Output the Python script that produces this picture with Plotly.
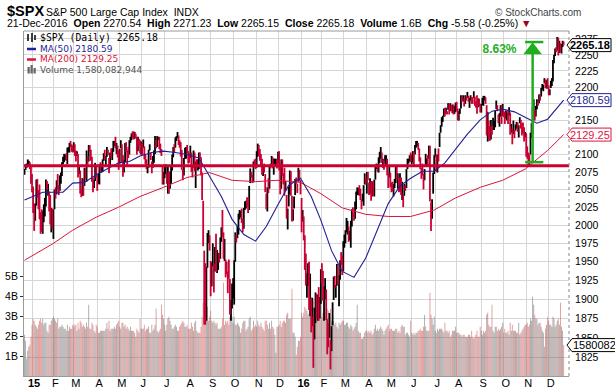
import math
import plotly.graph_objects as go

# ---------------------------------------------------------------- data
# trading-day counts per month (first entry = last 7 sessions of Dec 2014)
month_days = [7, 20, 19, 22, 21, 20, 22, 22, 21, 21, 22, 20, 22,
              19, 20, 22, 21, 21, 22, 20, 23, 21, 21, 21, 15]
month_labels = ["<b>15</b>", "F", "M", "A", "M", "J", "J", "A", "S", "O", "N", "D",
                "<b>16</b>", "F", "M", "A", "M", "J", "J", "A", "S", "O", "N", "D"]

close = [
    2079, 2082, 2082, 2089, 2091, 2080, 2059,
    2058, 2021, 2003, 2026, 2062, 2045, 2028, 2023, 2011, 1993, 2019, 2023, 2032, 2063, 2052, 2057, 2030, 2002, 2021, 1995,
    2021, 2050, 2042, 2063, 2055, 2047, 2069, 2069, 2088, 2097, 2100, 2100, 2097, 2110, 2110, 2115, 2114, 2111, 2105,
    2117, 2108, 2099, 2101, 2071, 2079, 2044, 2040, 2066, 2053, 2081, 2074, 2100, 2089, 2108, 2104, 2092, 2061, 2056, 2061, 2086, 2068,
    2060, 2067, 2081, 2076, 2082, 2091, 2102, 2092, 2096, 2107, 2105, 2081, 2100, 2097, 2108, 2113, 2118, 2109, 2115, 2107, 2086,
    2108, 2114, 2089, 2080, 2088, 2116, 2105, 2099, 2098, 2121, 2123, 2129, 2128, 2126, 2131, 2126, 2104, 2123, 2121, 2107,
    2112, 2110, 2114, 2096, 2093, 2079, 2080, 2105, 2109, 2094, 2084, 2096, 2100, 2121, 2110, 2123, 2124, 2109, 2102, 2101, 2058, 2063,
    2077, 2077, 2069, 2081, 2047, 2051, 2077, 2100, 2109, 2107, 2124, 2127, 2128, 2119, 2114, 2102, 2080, 2068, 2093, 2109, 2109, 2104,
    2098, 2093, 2100, 2084, 2078, 2104, 2084, 2086, 2083, 2092, 2102, 2097, 2080, 2036, 1971, 1893, 1868, 1941, 1988, 1989, 1972,
    1914, 1949, 1951, 1921, 1969, 1942, 1952, 1961, 1953, 1978, 1995, 1990, 1958, 1967, 1943, 1939, 1932, 1931, 1882, 1884, 1920,
    1924, 1951, 1987, 1980, 1996, 2013, 2015, 2017, 2004, 1994, 2024, 2033, 2034, 2031, 2019, 2053, 2075, 2071, 2066, 2090, 2089, 2079,
    2104, 2110, 2102, 2100, 2099, 2079, 2082, 2075, 2046, 2023, 2053, 2050, 2084, 2081, 2089, 2087, 2089, 2089, 2090, 2080,
    2103, 2080, 2050, 2092, 2077, 2064, 2048, 2052, 2012, 2022, 2043, 2073, 2042, 2006, 2021, 2039, 2064, 2061, 2057, 2078, 2063, 2044,
    2013, 2017, 1990, 1943, 1922, 1924, 1939, 1890, 1922, 1880, 1881, 1859, 1869, 1907, 1877, 1904, 1883, 1893, 1940,
    1939, 1903, 1913, 1915, 1880, 1853, 1852, 1852, 1829, 1865, 1896, 1927, 1918, 1918, 1946, 1921, 1930, 1952, 1948, 1932,
    1978, 1986, 1993, 2000, 2002, 1979, 1989, 1990, 2022, 2020, 2016, 2027, 2041, 2050, 2052, 2050, 2037, 2036, 2037, 2055, 2064, 2060,
    2073, 2067, 2046, 2066, 2041, 2048, 2042, 2061, 2082, 2083, 2081, 2095, 2101, 2102, 2091, 2092, 2088, 2092, 2095, 2075, 2065,
    2081, 2063, 2052, 2051, 2058, 2059, 2085, 2064, 2065, 2047, 2066, 2047, 2048, 2040, 2052, 2048, 2077, 2090, 2091, 2099, 2097,
    2099, 2105, 2100, 2110, 2112, 2119, 2115, 2096, 2079, 2075, 2072, 2071, 2071, 2084, 2089, 2085, 2113, 2037, 2001, 2036, 2071, 2099,
    2103, 2089, 2100, 2098, 2129, 2137, 2152, 2152, 2163, 2162, 2166, 2164, 2173, 2166, 2175, 2169, 2169, 2167, 2170, 2174,
    2171, 2157, 2164, 2164, 2183, 2181, 2182, 2175, 2186, 2184, 2190, 2179, 2182, 2187, 2184, 2182, 2186, 2176, 2173, 2169, 2180, 2176, 2171,
    2171, 2180, 2186, 2186, 2181, 2128, 2159, 2127, 2126, 2147, 2139, 2139, 2140, 2164, 2177, 2165, 2146, 2160, 2171, 2151, 2168,
    2161, 2151, 2160, 2160, 2154, 2164, 2136, 2139, 2133, 2133, 2127, 2140, 2144, 2141, 2141, 2151, 2143, 2139, 2133, 2126, 2126,
    2111, 2098, 2089, 2085, 2132, 2140, 2163, 2167, 2164, 2164, 2180, 2177, 2187, 2182, 2198, 2203, 2204, 2213, 2202, 2204, 2199,
    2191, 2192, 2205, 2213, 2241, 2246, 2260, 2256, 2272, 2253, 2262, 2258, 2263, 2271, 2265,
]
high = [
    2079, 2086, 2087, 2093, 2091, 2089, 2085,
    2072, 2054, 2030, 2030, 2064, 2065, 2049, 2057, 2018, 2022, 2020, 2029, 2038, 2064, 2062, 2058, 2047, 2042, 2024, 2023,
    2022, 2050, 2053, 2063, 2072, 2056, 2070, 2074, 2089, 2097, 2101, 2100, 2102, 2110, 2111, 2117, 2120, 2115, 2113,
    2118, 2115, 2106, 2105, 2101, 2085, 2077, 2050, 2066, 2065, 2081, 2080, 2106, 2098, 2114, 2114, 2107, 2097, 2067, 2063, 2088, 2084,
    2068, 2072, 2086, 2089, 2086, 2093, 2102, 2107, 2098, 2111, 2107, 2095, 2103, 2109, 2109, 2120, 2120, 2126, 2117, 2113, 2106,
    2108, 2121, 2115, 2099, 2092, 2117, 2118, 2106, 2111, 2121, 2126, 2131, 2134, 2134, 2133, 2130, 2126, 2126, 2123, 2121,
    2119, 2117, 2122, 2112, 2100, 2093, 2086, 2107, 2115, 2103, 2090, 2098, 2106, 2127, 2121, 2127, 2126, 2126, 2116, 2108, 2084, 2075,
    2083, 2086, 2075, 2083, 2076, 2075, 2082, 2100, 2111, 2115, 2125, 2127, 2133, 2128, 2121, 2118, 2107, 2079, 2095, 2110, 2111, 2114,
    2105, 2102, 2113, 2103, 2082, 2106, 2103, 2090, 2093, 2093, 2103, 2103, 2096, 2074, 2034, 1965, 1948, 1943, 1989, 1993, 1986,
    1951, 1949, 1975, 1947, 1970, 1988, 1966, 1962, 1962, 1983, 1997, 2021, 1990, 1981, 1953, 1950, 1937, 1953, 1927, 1899, 1921,
    1928, 1952, 1990, 1987, 1999, 2016, 2021, 2020, 2023, 2009, 2024, 2033, 2034, 2039, 2038, 2055, 2080, 2075, 2071, 2090, 2093, 2094,
    2105, 2116, 2114, 2108, 2101, 2094, 2083, 2087, 2072, 2044, 2053, 2066, 2084, 2087, 2098, 2096, 2094, 2094, 2094, 2093,
    2104, 2105, 2086, 2093, 2093, 2073, 2081, 2062, 2042, 2023, 2054, 2077, 2076, 2041, 2022, 2040, 2065, 2067, 2058, 2081, 2078, 2063,
    2038, 2021, 2012, 1986, 1961, 1935, 1948, 1950, 1934, 1901, 1902, 1877, 1889, 1909, 1907, 1906, 1916, 1903, 1940,
    1948, 1938, 1917, 1928, 1913, 1874, 1869, 1882, 1847, 1865, 1896, 1930, 1931, 1919, 1947, 1945, 1932, 1952, 1963, 1958,
    1978, 1987, 1993, 2010, 2006, 1998, 1992, 2006, 2022, 2025, 2017, 2033, 2047, 2053, 2052, 2056, 2051, 2036, 2044, 2056, 2073, 2067,
    2075, 2075, 2060, 2066, 2062, 2061, 2062, 2064, 2083, 2087, 2083, 2096, 2104, 2111, 2103, 2094, 2091, 2099, 2099, 2094, 2073,
    2084, 2074, 2060, 2061, 2058, 2065, 2085, 2084, 2073, 2067, 2073, 2067, 2061, 2044, 2058, 2056, 2079, 2094, 2094, 2099, 2103,
    2100, 2105, 2104, 2114, 2120, 2120, 2117, 2109, 2096, 2081, 2087, 2072, 2079, 2101, 2094, 2099, 2113, 2113, 2032, 2036, 2074, 2099,
    2109, 2100, 2100, 2109, 2132, 2143, 2155, 2157, 2168, 2169, 2169, 2164, 2176, 2175, 2176, 2173, 2174, 2174, 2172, 2177,
    2178, 2168, 2164, 2168, 2188, 2186, 2188, 2183, 2188, 2186, 2193, 2187, 2184, 2188, 2185, 2185, 2194, 2186, 2179, 2188, 2183, 2183, 2175,
    2175, 2184, 2187, 2187, 2185, 2173, 2163, 2150, 2142, 2151, 2142, 2154, 2150, 2165, 2180, 2173, 2159, 2161, 2173, 2173, 2175,
    2164, 2163, 2165, 2162, 2165, 2170, 2162, 2145, 2138, 2150, 2136, 2144, 2148, 2147, 2143, 2155, 2151, 2146, 2147, 2140, 2133,
    2131, 2112, 2103, 2100, 2132, 2146, 2170, 2182, 2166, 2172, 2182, 2179, 2189, 2190, 2199, 2205, 2204, 2214, 2212, 2211, 2214,
    2203, 2197, 2210, 2214, 2242, 2250, 2260, 2262, 2278, 2277, 2272, 2268, 2267, 2272, 2271,
]
low = [
    2071, 2078, 2081, 2082, 2085, 2079, 2058,
    2046, 2017, 1992, 2006, 2027, 2038, 2022, 2008, 1988, 1991, 1988, 2004, 2012, 2026, 2050, 2041, 2019, 2001, 1990, 1994,
    1981, 2022, 2037, 2043, 2050, 2042, 2048, 2058, 2069, 2086, 2089, 2092, 2091, 2086, 2103, 2103, 2111, 2104, 2103,
    2104, 2098, 2090, 2098, 2067, 2072, 2044, 2039, 2041, 2041, 2055, 2065, 2061, 2086, 2090, 2104, 2091, 2061, 2046, 2052, 2062, 2067,
    2048, 2058, 2057, 2076, 2074, 2075, 2091, 2092, 2084, 2097, 2099, 2073, 2082, 2095, 2092, 2104, 2112, 2109, 2101, 2096, 2078,
    2087, 2109, 2088, 2068, 2074, 2089, 2104, 2085, 2095, 2100, 2117, 2121, 2124, 2122, 2123, 2125, 2100, 2105, 2113, 2102,
    2100, 2099, 2110, 2093, 2086, 2079, 2073, 2081, 2106, 2092, 2073, 2081, 2088, 2101, 2109, 2111, 2121, 2108, 2102, 2098, 2057, 2057,
    2066, 2072, 2058, 2044, 2044, 2051, 2058, 2077, 2096, 2103, 2110, 2120, 2124, 2114, 2110, 2097, 2078, 2063, 2070, 2094, 2094, 2102,
    2087, 2088, 2095, 2075, 2067, 2081, 2076, 2052, 2080, 2077, 2079, 2094, 2070, 2035, 1971, 1867, 1867, 1872, 1942, 1975, 1965,
    1904, 1917, 1944, 1909, 1937, 1937, 1935, 1939, 1949, 1954, 1977, 1984, 1954, 1951, 1929, 1933, 1908, 1927, 1880, 1872, 1888,
    1901, 1893, 1950, 1976, 1982, 1987, 2008, 2011, 2003, 1990, 1995, 2021, 2023, 2026, 2017, 2021, 2059, 2067, 2059, 2060, 2082, 2079,
    2081, 2097, 2098, 2091, 2084, 2071, 2069, 2074, 2046, 2022, 2019, 2045, 2051, 2080, 2083, 2080, 2071, 2087, 2084, 2080,
    2087, 2077, 2043, 2051, 2069, 2057, 2041, 2048, 2009, 1994, 2026, 2043, 2041, 2005, 2006, 2023, 2042, 2058, 2045, 2061, 2062, 2043,
    1990, 2005, 1979, 1939, 1918, 1902, 1918, 1886, 1878, 1857, 1865, 1812, 1848, 1869, 1875, 1872, 1872, 1875, 1894,
    1921, 1898, 1872, 1900, 1873, 1829, 1838, 1850, 1810, 1833, 1866, 1899, 1915, 1902, 1918, 1920, 1891, 1926, 1946, 1932,
    1937, 1969, 1975, 1990, 1987, 1977, 1979, 1969, 1998, 2012, 2006, 2009, 2022, 2042, 2042, 2041, 2035, 2022, 2033, 2027, 2057, 2057,
    2044, 2063, 2042, 2043, 2034, 2040, 2041, 2040, 2064, 2079, 2075, 2074, 2088, 2094, 2088, 2081, 2078, 2087, 2084, 2070, 2052,
    2067, 2053, 2046, 2047, 2040, 2052, 2059, 2064, 2051, 2046, 2047, 2042, 2035, 2025, 2041, 2048, 2052, 2079, 2087, 2090, 2089,
    2086, 2089, 2085, 2100, 2110, 2112, 2107, 2090, 2079, 2065, 2070, 2050, 2063, 2084, 2083, 2084, 2094, 2033, 1992, 2009, 2044, 2072,
    2097, 2075, 2074, 2090, 2111, 2132, 2141, 2148, 2156, 2156, 2160, 2159, 2166, 2159, 2164, 2164, 2161, 2159, 2160, 2163,
    2165, 2150, 2150, 2160, 2168, 2178, 2179, 2171, 2175, 2180, 2184, 2178, 2169, 2180, 2175, 2175, 2184, 2172, 2169, 2160, 2170, 2171, 2162,
    2162, 2173, 2172, 2180, 2175, 2128, 2119, 2121, 2120, 2122, 2129, 2136, 2136, 2140, 2167, 2164, 2146, 2141, 2156, 2145, 2157,
    2155, 2145, 2153, 2150, 2145, 2157, 2129, 2132, 2115, 2130, 2124, 2135, 2138, 2133, 2125, 2146, 2138, 2128, 2131, 2119, 2125,
    2097, 2094, 2085, 2084, 2100, 2124, 2129, 2151, 2150, 2156, 2167, 2172, 2176, 2180, 2186, 2196, 2194, 2206, 2199, 2198, 2198,
    2188, 2188, 2199, 2202, 2209, 2237, 2248, 2254, 2257, 2249, 2253, 2254, 2252, 2262, 2265,
]
volume_b = [
    2.1, 1.8, 0.9, 1.3, 1.5, 1.6, 2.0,
    2.6, 2.9, 2.8, 2.6, 2.5, 2.4, 2.6, 2.8, 2.9, 2.7, 2.9, 2.6, 2.7, 2.7, 2.3, 2.2, 2.6, 2.6, 2.8, 2.9,
    3.0, 2.9, 2.8, 2.7, 2.9, 2.4, 2.5, 2.5, 2.6, 2.5, 2.4, 2.4, 2.3, 2.6, 2.3, 2.5, 2.4, 2.4, 2.6,
    2.5, 2.6, 2.6, 2.3, 2.7, 2.4, 2.8, 2.7, 2.5, 2.6, 2.5, 2.4, 2.7, 2.5, 3.6, 2.4, 2.4, 2.7, 2.6, 2.3, 2.2, 2.6,
    2.5, 2.2, 2.2, 2.3, 2.3, 2.3, 2.3, 2.3, 2.4, 2.7, 2.4, 2.8, 2.3, 2.4, 2.4, 2.4, 2.5, 2.4, 2.6, 2.7, 2.8,
    2.5, 2.4, 2.7, 2.7, 2.5, 2.6, 2.4, 2.5, 2.4, 2.3, 2.5, 2.3, 2.3, 2.3, 2.2, 2.0, 2.4, 2.3, 2.2, 2.9,
    2.4, 2.4, 2.4, 2.6, 2.3, 2.4, 2.4, 2.5, 2.2, 2.2, 2.6, 2.3, 2.4, 2.6, 3.4, 2.3, 2.2, 2.3, 2.4, 3.6, 3.1, 2.9,
    2.6, 2.3, 2.6, 2.9, 3.0, 2.8, 2.6, 2.4, 2.4, 2.5, 2.6, 2.5, 2.3, 2.3, 2.5, 2.6, 2.7, 2.8, 2.7, 2.5, 2.5, 2.6,
    2.4, 2.4, 2.4, 2.7, 2.5, 2.3, 2.7, 2.8, 2.3, 2.2, 2.2, 2.2, 2.5, 3.0, 3.7, 4.8, 4.0, 4.0, 3.5, 2.8, 3.0,
    3.3, 2.8, 2.7, 2.8, 2.7, 2.6, 2.7, 2.4, 2.4, 2.4, 2.5, 2.9, 4.7, 2.6, 2.8, 2.7, 2.8, 2.6, 3.0, 3.1, 3.0,
    2.7, 3.0, 2.6, 2.6, 2.7, 2.6, 2.5, 2.2, 2.4, 2.7, 2.8, 2.8, 2.3, 2.4, 2.5, 2.9, 3.0, 2.3, 2.4, 2.8, 2.5, 2.6,
    2.5, 2.8, 2.6, 2.5, 2.7, 2.5, 2.4, 2.3, 2.8, 2.8, 2.6, 2.4, 2.7, 2.4, 2.8, 2.5, 2.4, 2.1, 1.2, 2.5,
    2.5, 2.6, 2.8, 2.5, 2.7, 2.8, 2.8, 2.7, 3.1, 3.2, 2.9, 2.9, 2.9, 4.4, 2.2, 2.2, 2.0, 1.1, 1.5, 1.8, 1.8, 2.0,
    3.2, 3.0, 3.2, 3.5, 3.4, 3.3, 3.1, 3.2, 3.4, 4.0, 3.5, 3.8, 3.2, 3.3, 2.8, 2.9, 3.0, 3.1, 3.8,
    3.0, 3.2, 3.2, 3.0, 3.2, 3.4, 3.3, 3.2, 3.4, 2.8, 2.8, 2.8, 2.6, 2.7, 2.5, 2.4, 2.7, 2.6, 2.7, 2.8,
    2.8, 2.6, 2.6, 2.7, 2.7, 2.5, 2.4, 2.6, 2.5, 2.3, 2.4, 2.5, 2.7, 3.6, 2.3, 2.2, 2.2, 1.9, 1.9, 2.0, 2.2, 2.3,
    2.3, 2.2, 2.3, 2.2, 2.3, 2.1, 2.2, 2.4, 2.6, 2.3, 2.4, 2.3, 2.4, 2.5, 2.4, 2.3, 2.1, 2.3, 2.4, 2.5, 2.6,
    2.3, 2.4, 2.4, 2.3, 2.3, 2.3, 2.4, 2.4, 2.2, 2.3, 2.2, 2.5, 2.6, 2.5, 2.5, 2.1, 2.2, 2.2, 2.1, 2.0, 2.8,
    2.2, 2.1, 2.2, 2.1, 2.2, 2.2, 2.3, 2.3, 2.4, 2.3, 2.3, 2.5, 3.1, 2.5, 2.3, 2.3, 2.3, 4.2, 3.1, 2.9, 2.6, 3.0,
    2.3, 2.2, 2.4, 2.3, 2.4, 2.4, 2.4, 2.3, 2.2, 2.7, 2.3, 2.3, 2.2, 2.3, 2.0, 2.1, 2.3, 2.3, 2.3, 2.5,
    2.2, 2.2, 2.2, 2.1, 2.1, 2.0, 2.1, 2.1, 2.0, 2.0, 2.0, 2.1, 2.1, 2.0, 2.3, 2.0, 1.9, 2.0, 2.1, 2.3, 2.0, 2.0, 2.5,
    2.3, 2.1, 2.3, 2.2, 2.3, 3.1, 3.2, 2.6, 2.5, 2.5, 3.6, 2.3, 2.2, 2.5, 2.5, 2.3, 2.4, 2.3, 2.4, 2.5, 2.7,
    2.2, 2.4, 2.2, 2.2, 2.3, 2.1, 2.7, 2.3, 2.6, 2.3, 2.3, 2.3, 2.2, 2.2, 2.7, 2.1, 2.2, 2.3, 2.4, 2.5, 2.6,
    2.6, 2.7, 2.5, 2.6, 2.9, 2.8, 4.0, 3.6, 3.1, 2.9, 2.9, 2.6, 2.7, 2.7, 2.5, 2.3, 2.2, 1.5, 2.4, 2.6, 3.0,
    2.8, 2.6, 2.6, 2.5, 3.0, 2.9, 2.5, 2.6, 2.8, 2.9, 2.6, 3.7, 2.5, 2.3, 1.58,
]
prev_close = 2071  # close of the session before the first bar

# moving averages (bar index, value)
ma50_idx = [0, 6, 17, 26, 36, 45, 56, 67, 78, 88, 98, 108, 119, 130, 141, 152, 163, 173, 184, 194,
            205, 216, 226, 236, 247, 258, 268, 277, 287, 297, 308, 319, 330, 340, 351, 361, 372, 383,
            393, 403, 414, 426, 437, 447, 458, 468, 479, 489, 495, 504]
ma50 = [2035, 2039, 2046, 2046, 2046, 2059, 2060, 2071, 2080, 2088, 2090, 2098, 2103, 2105, 2103, 2100,
        2095, 2068, 2040, 2008, 1987, 1978, 1998, 2026, 2056, 2066, 2040, 2007, 1965, 1937, 1929, 1955,
        1995, 2030, 2055, 2066, 2076, 2076, 2088, 2108, 2130, 2151, 2164, 2167, 2163, 2155, 2146, 2152,
        2163, 2180.59]
ma200_idx = [0, 6, 26, 45, 67, 88, 108, 130, 152, 173, 194, 216, 236, 258, 277, 297, 319, 340, 361,
             383, 403, 426, 447, 468, 489, 504]
ma200 = [1952, 1957, 1974, 1993, 2011, 2025, 2040, 2053, 2067, 2074, 2063, 2061, 2063, 2060, 2044,
         2024, 2015, 2012, 2012, 2021, 2038, 2053, 2063, 2079, 2106, 2129.25]

price_ticks = [1825, 1850, 1875, 1900, 1925, 1950, 1975, 2000, 2025, 2050, 2075, 2100, 2125,
               2150, 2175, 2200, 2225, 2250, 2275]
covered_ticks = [2125, 2175]  # labels hidden behind the MA value tags
volume_ticks = [1, 2, 3, 4, 5]
volume_tick_labels = ["1B", "2B", "3B", "4B", "5B"]

support_level = 2084
arrow_idx = 475
arrow_from = 2089
arrow_to = 2270
arrow_head = 2257
gain_label = "8.63%"
gain_label_idx = 444

last_close = 2265.18
last_ma50 = 2180.59
last_ma200 = 2129.25
last_volume = 1580082944
last_volume_text = "1,580,082,944"

header_date = "21-Dec-2016"
header_open, header_high, header_low, header_close = "2270.54", "2271.23", "2265.15", "2265.18"
header_volume, header_chg = "1.6B", "-5.58 (-0.25%)"

# ---------------------------------------------------------------- checks
n = len(close)
for name, arr in (("high", high), ("low", low), ("volume_b", volume_b)):
    if len(arr) != n:
        raise ValueError(f"{name} has {len(arr)} values but close has {n}")
if sum(month_days) != n:
    raise ValueError(f"month_days sums to {sum(month_days)}, close has {n}")

# ---------------------------------------------------------------- geometry
W, H = 615, 390
L, R, T, B = 24, 46, 31, 14
PW, PH = W - L - R, H - T - B
X_RANGE = [-0.5, 509]
P_LO, P_HI = 1801.8, 2287.4
Y2_RANGE = [math.log10(P_LO), math.log10(P_HI)]
V_RANGE = [0.035, 17.285]

FONT = "Liberation Sans, Arial, sans-serif"
UP_C, DOWN_C = "#000000", "#cc0033"
VOL_UP, VOL_DOWN = "rgba(100,100,100,0.56)", "rgba(200,62,62,0.52)"
MA50_C, MA200_C = "#1f1f96", "#dc143c"
GREEN = "#1fae1f"
GRID = "#d6d6d6"


def xp(px):
    return (px - L) / PW


def yp(py):
    return (H - B - py) / PH


def price_py(v):
    return T + PH * (Y2_RANGE[1] - math.log10(v)) / (Y2_RANGE[1] - Y2_RANGE[0])


def vol_py(v):
    return T + PH * (V_RANGE[1] - v) / (V_RANGE[1] - V_RANGE[0])


idx = list(range(n))
prevs = [prev_close] + close[:-1]
up = [c >= p for c, p in zip(close, prevs)]

tick_idx = []
acc = 0
for d in month_days[:-1]:
    acc += d
    tick_idx.append(acc)

fig = go.Figure()

# volume bars
fig.add_trace(go.Bar(
    x=idx, y=volume_b, yaxis="y", width=0.85,
    marker=dict(color=[VOL_UP if u else VOL_DOWN for u in up], line=dict(width=0)),
    hoverinfo="skip"))


def segments(flag):
    xs, ys = [], []
    for i in idx:
        if up[i] == flag:
            xs += [i, i, None]
            ys += [low[i], high[i], None]
    return xs, ys


for flag, col in ((True, UP_C), (False, DOWN_C)):
    xs, ys = segments(flag)
    fig.add_trace(go.Scatter(x=xs, y=ys, yaxis="y2", mode="lines",
                             line=dict(color=col, width=1.8), hoverinfo="skip"))

fig.add_trace(go.Scatter(x=ma200_idx, y=ma200, yaxis="y2", mode="lines",
                         line=dict(color=MA200_C, width=1), hoverinfo="skip"))
fig.add_trace(go.Scatter(x=ma50_idx, y=ma50, yaxis="y2", mode="lines",
                         line=dict(color=MA50_C, width=1.1), hoverinfo="skip"))

# support line
fig.add_trace(go.Scatter(x=X_RANGE, y=[support_level, support_level], yaxis="y2", mode="lines",
                         line=dict(color=DOWN_C, width=3), hoverinfo="skip"))

# green gain arrow
fig.add_trace(go.Scatter(x=[arrow_idx, arrow_idx], y=[arrow_from, arrow_head], yaxis="y2",
                         mode="lines", line=dict(color=GREEN, width=2.5), hoverinfo="skip"))
for yv in (arrow_from, arrow_to):
    fig.add_trace(go.Scatter(x=[arrow_idx - 7, arrow_idx + 10], y=[yv, yv], yaxis="y2",
                             mode="lines", line=dict(color=GREEN, width=2.5), hoverinfo="skip"))
fig.add_trace(go.Scatter(x=[arrow_idx], y=[arrow_head], yaxis="y2", mode="markers",
                         marker=dict(symbol="triangle-up", size=16, color=GREEN), hoverinfo="skip"))
fig.add_trace(go.Scatter(x=[gain_label_idx], y=[arrow_head], yaxis="y2", mode="text",
                         text=[f"<b>{gain_label}</b>"],
                         textfont=dict(family=FONT, size=12, color=GREEN), hoverinfo="skip"))

shapes = []
annotations = []

# frame: top line and dotted right edge
shapes.append(dict(type="line", xref="paper", yref="paper", x0=0, x1=1, y0=1, y1=1,
                   line=dict(color="#9a9a9a", width=1)))
shapes.append(dict(type="line", xref="paper", yref="paper", x0=1, x1=1, y0=0, y1=1,
                   line=dict(color="#888888", width=1, dash="dot")))


# right-hand value tags
def tag(py, text, color, bold=False, right=611, anchor="right"):
    tip, left, hh = 567, 572, 6.5
    path = (f"M {xp(tip)},{yp(py)} L {xp(left)},{yp(py - hh)} L {xp(right)},{yp(py - hh)} "
            f"L {xp(right)},{yp(py + hh)} L {xp(left)},{yp(py + hh)} Z")
    shapes.append(dict(type="path", xref="paper", yref="paper", path=path,
                       line=dict(color=color, width=1), fillcolor="white", layer="above"))
    xa = xp(right - 1) if anchor == "right" else xp(left + 1)
    annotations.append(dict(xref="paper", yref="paper", x=xa, y=yp(py),
                            xanchor=anchor, yanchor="middle", showarrow=False,
                            borderpad=0, borderwidth=0,
                            text=f"<b>{text}</b>" if bold else text,
                            font=dict(family=FONT, size=11, color=color)))


tag(price_py(last_close), f"{last_close:.2f}", "#000000", bold=True)
tag(price_py(last_ma50), f"{last_ma50:.2f}", MA50_C)
tag(price_py(last_ma200), f"{last_ma200:.2f}", MA200_C)
tag(vol_py(last_volume / 1e9), str(last_volume)[:7], "#000000", right=618, anchor="left")

# header
annotations.append(dict(xref="paper", yref="paper", x=xp(5), y=yp(11), xanchor="left",
                        yanchor="middle", showarrow=False, text="<b>$SPX</b>",
                        font=dict(family=FONT, size=14.5, color="#000")))
annotations.append(dict(xref="paper", yref="paper", x=xp(44), y=yp(11.5), xanchor="left",
                        yanchor="middle", showarrow=False,
                        text="S&amp;P 500 Large Cap Index\u00a0\u00a0INDX",
                        font=dict(family=FONT, size=10.5, color="#000")))
annotations.append(dict(xref="paper", yref="paper", x=xp(583), y=yp(12), xanchor="right",
                        yanchor="middle", showarrow=False, text="© StockCharts.com",
                        font=dict(family=FONT, size=10, color="#444")))
sp = "\u00a0"
row2 = (f"{header_date}{sp}{sp}<b>Open</b> {header_open}{sp}{sp}<b>High</b> {header_high}{sp}{sp}"
        f"<b>Low</b> {header_low}{sp}{sp}<b>Close</b> {header_close}{sp}{sp}<b>Volume</b> {header_volume}"
        f"{sp}{sp}<b>Chg</b> {header_chg} <span style='color:#a0001e'>▼</span>")
annotations.append(dict(xref="paper", yref="paper", x=xp(5), y=yp(22.5), xanchor="left",
                        yanchor="middle", showarrow=False, text=row2,
                        font=dict(family=FONT, size=10.5, color="#000")))

# in-chart legend
LEG = "DejaVu Sans, Verdana, sans-serif"
legend_rows = [
    (37.7, f"$SPX (Daily) {last_close:.2f}", "#000000", "DejaVu Sans Mono, monospace", 9.8),
    (49.0, f"MA(50) {last_ma50:.2f}", MA50_C, LEG, 9),
    (59.5, f"MA(200) {last_ma200:.2f}", MA200_C, LEG, 9),
    (69.5, f"Volume {last_volume_text}", "#555555", LEG, 9),
]
for py, text, col, fam, sz in legend_rows:
    annotations.append(dict(xref="paper", yref="paper", x=xp(38), y=yp(py), xanchor="left",
                            yanchor="middle", showarrow=False, text=text,
                            font=dict(family=fam, size=sz, color=col)))
# legend icons
shapes.append(dict(type="line", xref="paper", yref="paper", x0=xp(27), x1=xp(36), y0=yp(49), y1=yp(49),
                   line=dict(color=MA50_C, width=2.5)))
shapes.append(dict(type="line", xref="paper", yref="paper", x0=xp(27), x1=xp(36), y0=yp(59.5), y1=yp(59.5),
                   line=dict(color=MA200_C, width=2.5)))
for x0, top, bot in ((28, 34, 41), (32, 33, 42), (35, 35, 40)):
    shapes.append(dict(type="line", xref="paper", yref="paper", x0=xp(x0), x1=xp(x0), y0=yp(top), y1=yp(bot),
                       line=dict(color="#000", width=1.5)))
for x0, top in ((27.5, 67), (30.5, 65), (33.5, 68)):
    shapes.append(dict(type="rect", xref="paper", yref="paper", x0=xp(x0), x1=xp(x0 + 2.3), y0=yp(top), y1=yp(73.5),
                       line=dict(width=0), fillcolor="#666"))

fig.update_layout(
    width=W, height=H,
    margin=dict(l=L, r=R, t=T, b=B, pad=0, autoexpand=False),
    paper_bgcolor="white", plot_bgcolor="white",
    showlegend=False,
    shapes=shapes, annotations=annotations,
    xaxis=dict(range=X_RANGE, tickvals=tick_idx, ticktext=month_labels, showgrid=True,
               gridcolor=GRID, gridwidth=1, zeroline=False, showline=True, linecolor="#9a9a9a",
               ticks="outside", ticklen=1, tickcolor="rgba(0,0,0,0)", automargin=False,
               ticklabelstandoff=-4, ticklabelshift=2,
               tickfont=dict(family=FONT, size=11, color="#000"), anchor="y"),
    yaxis=dict(range=V_RANGE, tickvals=volume_ticks, ticktext=volume_tick_labels, side="left",
               showgrid=False, zeroline=False, showline=True, linecolor="#9a9a9a",
               ticks="outside", ticklen=3, tickcolor="#333", automargin=False,
               tickfont=dict(family=FONT, size=10.5, color="#000")),
    yaxis2=dict(type="log", range=Y2_RANGE, overlaying="y", side="right", tickvals=price_ticks,
                ticktext=["" if t in covered_ticks else str(t) for t in price_ticks],
                showgrid=True, gridcolor=GRID, gridwidth=1,
                zeroline=False, showline=False, ticks="outside", ticklen=3, automargin=False,
                tickcolor="rgba(0,0,0,0)", tickfont=dict(family=FONT, size=10.5, color="#000")),
)

fig.write_html("out.html", config={"displayModeBar": False},
               post_script="document.body.style.margin='0';document.body.style.overflow='hidden';")
